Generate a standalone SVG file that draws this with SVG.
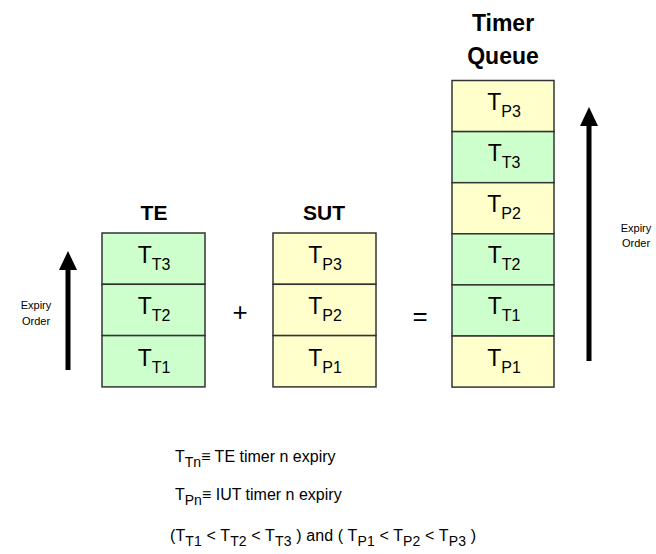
<svg xmlns="http://www.w3.org/2000/svg" width="656" height="554" viewBox="0 0 656 554">
<defs>
<style>
text{font-family:"Liberation Sans",Arial,sans-serif;fill:#000}
.title{font-size:21px;font-weight:bold;text-anchor:middle}
.qtitle{font-size:23px;font-weight:bold;text-anchor:middle}
.cell{stroke:#333;stroke-width:1.5}
.g{fill:#CCFFCC}
.y{fill:#FFFFCC}
.lbl{font-size:23px;text-anchor:middle}
.sub{font-size:16px}
.op{font-size:26px;text-anchor:middle}
.small{font-size:11px;text-anchor:middle}
.leg{font-size:16px}
.legsub{font-size:14px}
.arrow{stroke:#000;stroke-width:5;fill:none}
</style>
<marker id="head" viewBox="0 0 19 18" refX="0" refY="9" markerWidth="19" markerHeight="18" markerUnits="userSpaceOnUse" orient="auto">
<path d="M0,0 L19,9 L0,18 z" fill="#000"/>
</marker>
</defs>
<rect width="656" height="554" fill="#fff"/>

<g id="te">
<text class="title" x="154" y="220">TE</text>
<rect class="cell g" x="102" y="233" width="103" height="51.3"/>
<rect class="cell g" x="102" y="284.3" width="103" height="51.3"/>
<rect class="cell g" x="102" y="335.6" width="103" height="51.3"/>
<text class="lbl" x="154" y="263">T<tspan class="sub" dy="7">T3</tspan></text>
<text class="lbl" x="154" y="314">T<tspan class="sub" dy="7">T2</tspan></text>
<text class="lbl" x="154" y="366">T<tspan class="sub" dy="7">T1</tspan></text>
</g>

<g id="plus"><text class="op" x="240" y="321">+</text></g>

<g id="sut">
<text class="title" x="324" y="220">SUT</text>
<rect class="cell y" x="273" y="233" width="103" height="51.3"/>
<rect class="cell y" x="273" y="284.3" width="103" height="51.3"/>
<rect class="cell y" x="273" y="335.6" width="103" height="51.3"/>
<text class="lbl" x="325" y="263">T<tspan class="sub" dy="7">P3</tspan></text>
<text class="lbl" x="325" y="314">T<tspan class="sub" dy="7">P2</tspan></text>
<text class="lbl" x="325" y="366">T<tspan class="sub" dy="7">P1</tspan></text>
</g>

<g id="equals"><text class="op" x="420" y="325">=</text></g>

<g id="queue">
<text class="qtitle" x="503" y="31">Timer</text>
<text class="qtitle" x="503" y="64">Queue</text>
<rect class="cell y" x="452" y="80.5" width="102" height="51.1"/>
<rect class="cell g" x="452" y="131.6" width="102" height="51.1"/>
<rect class="cell y" x="452" y="182.7" width="102" height="51.1"/>
<rect class="cell g" x="452" y="233.8" width="102" height="51.1"/>
<rect class="cell g" x="452" y="284.9" width="102" height="51.1"/>
<rect class="cell y" x="452" y="336" width="102" height="51.1"/>
<text class="lbl" x="504" y="110">T<tspan class="sub" dy="7">P3</tspan></text>
<text class="lbl" x="504" y="161">T<tspan class="sub" dy="7">T3</tspan></text>
<text class="lbl" x="504" y="212">T<tspan class="sub" dy="7">P2</tspan></text>
<text class="lbl" x="504" y="263">T<tspan class="sub" dy="7">T2</tspan></text>
<text class="lbl" x="504" y="314">T<tspan class="sub" dy="7">T1</tspan></text>
<text class="lbl" x="504" y="366">T<tspan class="sub" dy="7">P1</tspan></text>
</g>

<g id="connectors">
<line class="arrow" x1="68" y1="370" x2="68" y2="270" marker-end="url(#head)"/>
<line class="arrow" x1="589" y1="361" x2="589" y2="126" marker-end="url(#head)"/>
</g>

<g id="expiry-left">
<text class="small" x="36" y="309">Expiry</text>
<text class="small" x="36" y="325">Order</text>
</g>
<g id="expiry-right">
<text class="small" x="636" y="232">Expiry</text>
<text class="small" x="636" y="247">Order</text>
</g>

<g id="legend">
<text class="leg" x="175" y="462">T<tspan class="legsub" dy="5">Tn</tspan><tspan dy="-5">≡ TE timer n expiry</tspan></text>
<text class="leg" x="175" y="500">T<tspan class="legsub" dy="5">Pn</tspan><tspan dy="-5">≡ IUT timer n expiry</tspan></text>
<text class="leg" x="170" y="541" textLength="306" lengthAdjust="spacing">(T<tspan class="legsub" dy="5">T1</tspan><tspan dy="-5"> &lt; T</tspan><tspan class="legsub" dy="5">T2</tspan><tspan dy="-5"> &lt; T</tspan><tspan class="legsub" dy="5">T3</tspan><tspan dy="-5"> ) and ( T</tspan><tspan class="legsub" dy="5">P1</tspan><tspan dy="-5"> &lt; T</tspan><tspan class="legsub" dy="5">P2</tspan><tspan dy="-5"> &lt; T</tspan><tspan class="legsub" dy="5">P3</tspan><tspan dy="-5"> )</tspan></text>
</g>
</svg>
